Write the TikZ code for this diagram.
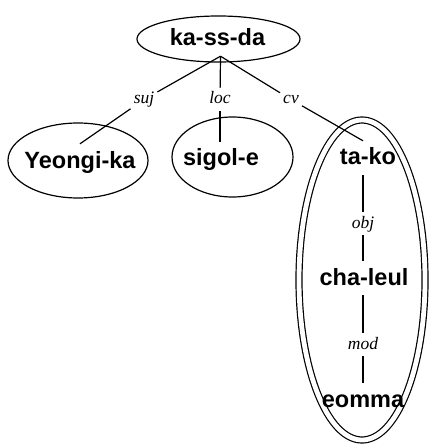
\documentclass[tikz,border=0pt]{standalone}
\usepackage{fontspec}
\setmainfont{Liberation Serif}
\newfontfamily\hvfont{Liberation Sans}
\begin{document}
\begin{tikzpicture}[x=1pt,y=-1pt,
  word/.style={font=\hvfont\bfseries\fontsize{23.5}{28}\selectfont, text height=20pt, text depth=6pt, inner xsep=2pt, inner ysep=4pt, anchor=base},
  rel/.style={font=\itshape\fontsize{17.5}{21}\selectfont, text height=13pt, text depth=4pt, inner xsep=3pt, inner ysep=3pt, anchor=base},
  bub/.style={line width=1.2pt},
  edge/.style={line width=1.2pt}]
\useasboundingbox (0,0) rectangle (428,446);
% bubbles
\draw[bub] (218.5,39) ellipse [x radius=81.5pt, y radius=23pt];
\draw[bub] (78,160.5) ellipse [x radius=70pt, y radius=37.5pt];
\draw[bub] (232.5,157) ellipse [x radius=60.5pt, y radius=40pt];
\draw[bub, double, double distance=4.8pt] (362,280) ellipse [x radius=63pt, y radius=160pt];
% words
\node[word] (kassda) at (217.5,46) {ka-ss-da};
\node[rel] (suj) at (144,104) {suj};
\node[rel] (loc) at (220,104) {loc};
\node[rel] (cv) at (291,104) {cv};
\node[word] (yeongi) at (80,168) {Yeongi-ka};
\node[word] (sigol) at (221,166) {sigol-e};
\node[word] (tako) at (368,165) {ta-ko};
\node[rel] (obj) at (363,228) {obj};
\node[word] (chaleul) at (364,285) {cha-leul};
\node[rel] (mod) at (363,349) {mod};
\node[word] (eomma) at (363,407) {eomma};
% connectors
\coordinate (apex) at ([xshift=3pt]kassda.south);
\draw[edge] (apex) -- (suj);
\draw[edge] (apex) -- (loc);
\draw[edge] (apex) -- (cv);
\draw[edge] (suj) -- (yeongi.north);
\draw[edge] (loc) -- (loc |- sigol.north);
\draw[edge] (cv) -- ([xshift=-5pt]tako.north);
\draw[edge] (obj) -- (obj |- tako.south);
\draw[edge] (obj) -- (obj |- chaleul.north);
\draw[edge] (mod) -- (mod |- chaleul.south);
\draw[edge] (mod) -- (mod |- eomma.north);
\end{tikzpicture}
\end{document}
